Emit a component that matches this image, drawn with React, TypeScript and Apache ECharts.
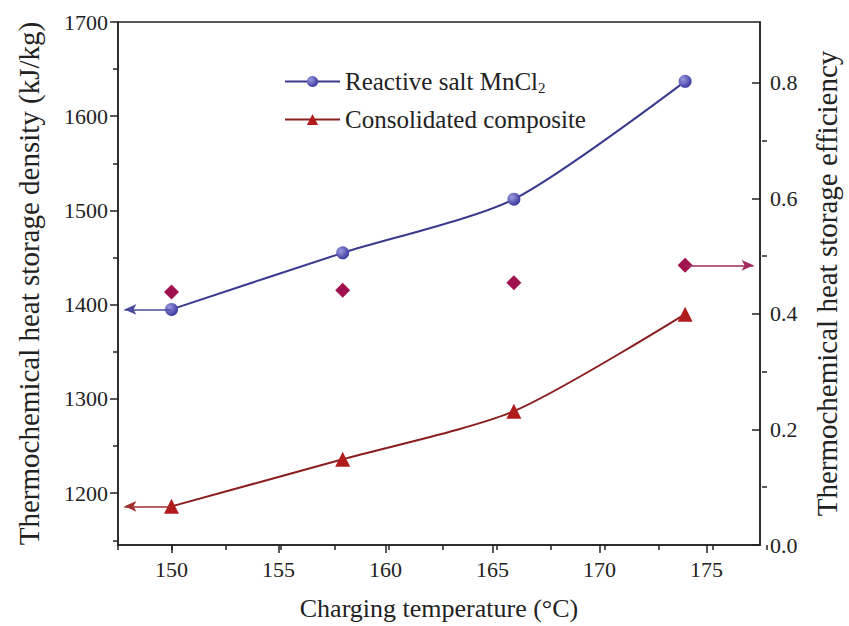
import React, { useEffect, useRef } from 'react';
import * as echarts from 'echarts';

const temps = [150, 158, 166, 174];
const saltDensity = [1395, 1455, 1512, 1637];
const compositeDensity = [1186, 1236, 1287, 1390];
const efficiency = [0.438, 0.441, 0.454, 0.484];

const xMajorTicks = [150, 155, 160, 165, 170, 175];
const leftMajorTicks = [1200, 1300, 1400, 1500, 1600, 1700];
const leftMinorTicks = [1150, 1250, 1350, 1450, 1550, 1650];
const rightMajorTicks = [0, 0.2, 0.4, 0.6, 0.8];
const rightMinorTicks = [0.1, 0.3, 0.5, 0.7];

const SALT = 'Reactive salt MnCl2';
const COMP = 'Consolidated composite';

const FONT = 'Liberation Serif';
const AXIS_COLOR = '#222';

export default function App() {
  const ref = useRef<HTMLDivElement>(null);

  useEffect(() => {
    if (!ref.current) return;
    const chart = echarts.init(ref.current, null, { renderer: 'svg' });
    const gridRect = { left: 118, right: 82, top: 22, bottom: 81 };
    const labelStyle = { fontFamily: FONT, fontSize: 22, color: '#222' };
    const nameStyle = { fontFamily: FONT, fontSize: 26, color: '#222' };
    const vNameStyle = { fontFamily: FONT, fontSize: 29, color: '#222' };
    const lineStyle = { color: AXIS_COLOR, width: 1.5 };

    const option: any = {
      animation: false,
      backgroundColor: '#fff',
      grid: [
        { ...gridRect, show: true, borderColor: AXIS_COLOR, borderWidth: 1.5, backgroundColor: 'transparent' },
        { ...gridRect, show: false },
      ],
      legend: {
        data: [SALT, COMP],
        orient: 'vertical',
        left: 279,
        top: 64,
        itemWidth: 55,
        itemHeight: 14,
        itemGap: 12,
        formatter: (n: string) => (n === SALT ? 'Reactive salt MnCl{sub|2}' : n),
        textStyle: {
          fontFamily: FONT,
          fontSize: 25,
          color: '#222',
          rich: { sub: { fontFamily: FONT, fontSize: 15, padding: [12, 0, 0, 0] } },
        },
      },
      xAxis: [
        {
          type: 'value',
          gridIndex: 0,
          min: 147.5,
          max: 177.5,
          position: 'bottom',
          axisLine: { show: true, lineStyle },
          axisTick: { show: true, customValues: xMajorTicks, length: 8, lineStyle },
          axisLabel: { customValues: xMajorTicks, margin: 13, formatter: (v: number) => String(v), ...labelStyle },
          splitLine: { show: false },
          name: 'Charging temperature (°C)',
          nameLocation: 'middle',
          nameGap: 50,
          nameTextStyle: nameStyle,
        },
        {
          type: 'value',
          gridIndex: 1,
          min: 147.5,
          max: 177.5,
          interval: 2.5,
          position: 'bottom',
          axisLine: { show: false },
          axisTick: { show: true, length: 5, lineStyle },
          axisLabel: { show: false },
          splitLine: { show: false },
        },
      ],
      yAxis: [
        {
          type: 'value',
          gridIndex: 0,
          position: 'left',
          min: 1145,
          max: 1700,
          axisLine: { show: true, lineStyle },
          axisTick: { show: true, customValues: leftMajorTicks, length: 8, lineStyle },
          axisLabel: { customValues: leftMajorTicks, margin: 10, formatter: (v: number) => String(v), ...labelStyle },
          splitLine: { show: false },
          name: 'Thermochemical heat storage density (kJ/kg)',
          nameLocation: 'middle',
          nameGap: 75,
          nameTextStyle: vNameStyle,
        },
        {
          type: 'value',
          gridIndex: 0,
          position: 'right',
          min: 0,
          max: 0.905,
          axisLine: { show: true, lineStyle },
          axisTick: { show: true, inside: true, customValues: rightMajorTicks, length: 8, lineStyle },
          axisLabel: {
            customValues: rightMajorTicks,
            margin: 10,
            formatter: (v: number) => v.toFixed(1),
            ...labelStyle,
          },
          splitLine: { show: false },
          name: 'Thermochemical heat storage efficiency',
          nameLocation: 'middle',
          nameGap: 52,
          nameTextStyle: vNameStyle,
        },
        {
          type: 'value',
          gridIndex: 1,
          position: 'left',
          min: 1145,
          max: 1700,
          axisLine: { show: false },
          axisTick: { show: true, customValues: leftMinorTicks, length: 5, lineStyle },
          axisLabel: { show: false },
          splitLine: { show: false },
        },
        {
          type: 'value',
          gridIndex: 1,
          position: 'right',
          min: 0,
          max: 0.905,
          axisLine: { show: false },
          axisTick: { show: true, inside: true, customValues: rightMinorTicks, length: 5, lineStyle },
          axisLabel: { show: false },
          splitLine: { show: false },
        },
      ],
      series: [
        {
          name: SALT,
          type: 'line',
          xAxisIndex: 0,
          yAxisIndex: 0,
          data: temps.map((t, i) => [t, saltDensity[i]]),
          smooth: 0.25,
          symbol: 'circle',
          symbolSize: 13,
          lineStyle: { color: '#3a3a8e', width: 2 },
          itemStyle: {
            color: new echarts.graphic.RadialGradient(0.35, 0.35, 0.75, [
              { offset: 0, color: '#9a9ae0' },
              { offset: 1, color: '#2e2e98' },
            ]),
          },
          markLine: {
            silent: true,
            symbol: ['none', 'arrow'],
            symbolSize: [8, 12],
            label: { show: false },
            lineStyle: { color: '#4a4aa0', width: 1.5, type: 'solid' },
            data: [[{ coord: [temps[0], saltDensity[0]] }, { coord: [147.8, saltDensity[0]] }]],
          },
          z: 3,
        },
        {
          name: COMP,
          type: 'line',
          xAxisIndex: 0,
          yAxisIndex: 0,
          data: temps.map((t, i) => [t, compositeDensity[i]]),
          smooth: 0.25,
          symbol: 'triangle',
          symbolSize: 15,
          lineStyle: { color: '#8a1e1e', width: 2 },
          itemStyle: { color: '#b01c1c' },
          markLine: {
            silent: true,
            symbol: ['none', 'arrow'],
            symbolSize: [8, 12],
            label: { show: false },
            lineStyle: { color: '#a03030', width: 1.5, type: 'solid' },
            data: [[{ coord: [temps[0], compositeDensity[0]] }, { coord: [147.8, compositeDensity[0]] }]],
          },
          z: 3,
        },
        {
          name: 'Efficiency',
          type: 'scatter',
          xAxisIndex: 0,
          yAxisIndex: 1,
          data: temps.map((t, i) => [t, efficiency[i]]),
          symbol: 'diamond',
          symbolSize: 15,
          itemStyle: { color: '#a0124e', opacity: 1 },
          markLine: {
            silent: true,
            symbol: ['none', 'arrow'],
            symbolSize: [8, 12],
            label: { show: false },
            lineStyle: { color: '#a02a5e', width: 1.5, type: 'solid' },
            data: [[{ coord: [temps[3], efficiency[3]] }, { coord: [177.2, efficiency[3]] }]],
          },
          z: 3,
        },
      ],
    };
    chart.setOption(option);
    return () => chart.dispose();
  }, []);

  return (
    <div
      ref={ref}
      style={{ position: 'fixed', left: 0, top: 0, width: 849, height: 626, background: '#fff' }}
    />
  );
}
